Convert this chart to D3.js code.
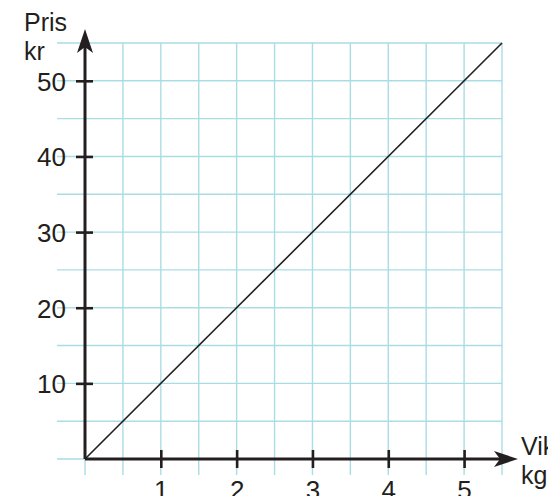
<!DOCTYPE html>
<html>
<head>
<meta charset="utf-8">
<script src="https://cdn.jsdelivr.net/npm/d3@7"></script>
<style>
  html, body { margin: 0; padding: 0; background: #fff; }
  svg { display: block; }
  text { font-family: "Liberation Sans", Arial, sans-serif; fill: #231f20; }
</style>
</head>
<body>
<svg id="chart" width="548" height="496"></svg>
<script>
// Weight (kg) against price (kr): 10 kr per kg
const weightKg = [0, 5.5];
const priceKr = [0, 55];
const xTicks = [1, 2, 3, 4, 5];
const yTicks = [10, 20, 30, 40, 50];
const xGrid = [0, 0.5, 1, 1.5, 2, 2.5, 3, 3.5, 4, 4.5, 5, 5.5];
const yGrid = [0, 5, 10, 15, 20, 25, 30, 35, 40, 45, 50, 55];

const svg = d3.select("#chart");
const ink = "#231f20";
const gridColor = "#a9dde4";

const x = d3.scaleLinear().domain([0, 5.5]).range([85, 502]);
const y = d3.scaleLinear().domain([0, 55]).range([459, 43]);

// light blue squared paper
const grid = svg.append("g");
grid.selectAll("line.v").data(xGrid).join("line")
  .attr("class", "v")
  .attr("x1", d => x(d)).attr("x2", d => x(d))
  .attr("y1", y(55)).attr("y2", y(0) + 16)
  .attr("stroke", gridColor).attr("stroke-width", 1.4);
grid.selectAll("line.h").data(yGrid).join("line")
  .attr("class", "h")
  .attr("x1", 57).attr("x2", x(5.5))
  .attr("y1", d => y(d)).attr("y2", d => y(d))
  .attr("stroke", gridColor).attr("stroke-width", 1.4);

// price line
svg.append("line")
  .attr("x1", x(weightKg[0])).attr("y1", y(priceKr[0]))
  .attr("x2", x(weightKg[1])).attr("y2", y(priceKr[1]))
  .attr("stroke", ink).attr("stroke-width", 1.6);

// axes with crossing ticks
const fmt = d3.format("d");
const xAxis = svg.append("g")
  .attr("transform", `translate(0,${y(0)})`)
  .call(d3.axisBottom(x).tickValues(xTicks).tickFormat(fmt)
    .tickSize(9).tickSizeOuter(0).tickPadding(12));
xAxis.select(".domain").remove();
xAxis.selectAll(".tick line").attr("y1", -9).attr("y2", 9)
  .attr("stroke", ink).attr("stroke-width", 2.6);
xAxis.selectAll(".tick text")
  .attr("font-size", 26).attr("font-family", "Liberation Sans, Arial, sans-serif")
  .attr("fill", ink).attr("dy", "0.72em");

const yAxis = svg.append("g")
  .attr("transform", `translate(${x(0)},0)`)
  .call(d3.axisLeft(y).tickValues(yTicks).tickFormat(fmt)
    .tickSize(9).tickSizeOuter(0).tickPadding(10));
yAxis.select(".domain").remove();
yAxis.selectAll(".tick line").attr("x1", -9).attr("x2", 8)
  .attr("stroke", ink).attr("stroke-width", 2.6);
yAxis.selectAll(".tick text")
  .attr("font-size", 26).attr("font-family", "Liberation Sans, Arial, sans-serif")
  .attr("fill", ink).attr("dy", "0.36em");

// axis lines
svg.append("line")
  .attr("x1", x(0)).attr("y1", y(0)).attr("x2", 508).attr("y2", y(0))
  .attr("stroke", ink).attr("stroke-width", 3);
svg.append("line")
  .attr("x1", x(0)).attr("y1", y(0)).attr("x2", x(0)).attr("y2", 38)
  .attr("stroke", ink).attr("stroke-width", 3);

// arrow heads
const ox = x(0), oy = y(0);
svg.append("path")
  .attr("d", `M${ox},29 L${ox + 8},53 L${ox},47 L${ox - 8},53 Z`)
  .attr("fill", ink);
svg.append("path")
  .attr("d", `M518,${oy} L494,${oy - 8} L500,${oy} L494,${oy + 8} Z`)
  .attr("fill", ink);

// axis titles
const title = (tx, ty, s) => svg.append("text")
  .attr("x", tx).attr("y", ty).attr("font-size", 25).text(s);
title(24, 31, "Pris");
title(24, 60, "kr");
title(521, 455, "Vikt");
title(521, 484, "kg");
</script>
</body>
</html>
